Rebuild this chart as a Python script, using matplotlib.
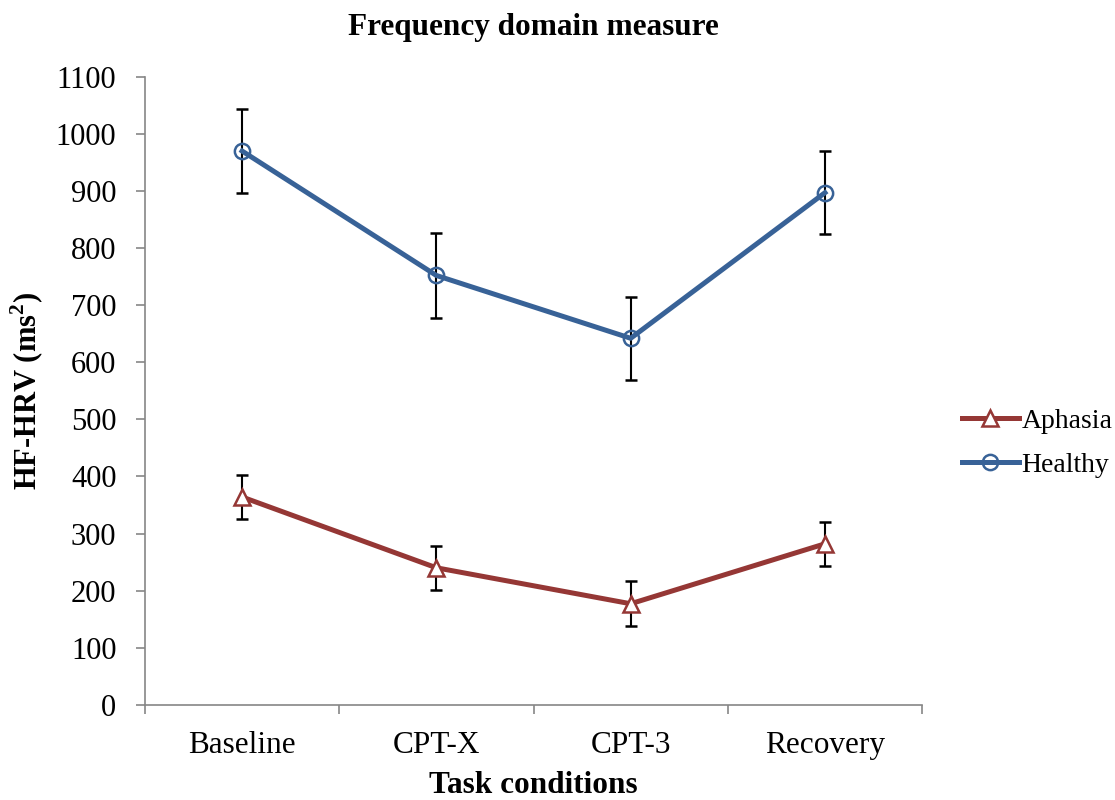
import matplotlib
matplotlib.use('Agg')
import matplotlib.pyplot as plt
import numpy as np

# 데이터
conditions = ['Baseline', 'CPT-X', 'CPT-3', 'Recovery']
aphasia = [364, 240, 177, 282]
aphasia_err = [39, 39, 39, 39]
healthy = [970, 752, 642, 897]
healthy_err = [74, 74, 73, 73]

plt.rcParams['font.family'] = ['Liberation Serif', 'DejaVu Serif']
plt.rcParams['mathtext.fontset'] = 'custom'
plt.rcParams['mathtext.rm'] = 'Liberation Serif'
plt.rcParams['mathtext.bf'] = 'Liberation Serif:bold'

fig = plt.figure(figsize=(11.15, 8), dpi=100)
ax = fig.add_axes([0.130, 0.119, 0.697, 0.785])

x = np.arange(len(conditions))

# 꺾은선 + 오차막대
ax.errorbar(x, aphasia, yerr=aphasia_err, color='#953735', lw=3.6, marker='^',
            ms=11, mfc='white', mec='#953735', mew=1.8, ecolor='black',
            elinewidth=1.5, capsize=4.3, capthick=1.5, label='Aphasia', zorder=3)
ax.errorbar(x, healthy, yerr=healthy_err, color='#386297', lw=3.6, marker='o',
            ms=11, mfc='none', mec='#386297', mew=1.8, ecolor='black',
            elinewidth=1.5, capsize=4.3, capthick=1.5, label='Healthy', zorder=3)

# 축 설정
ax.set_xlim(-0.5, 3.5)
ax.set_ylim(0, 1100)
ax.set_yticks(range(0, 1101, 100))
ax.set_xticks(x)
ax.set_xticklabels(conditions)
ax.set_xticks(np.arange(-0.5, 4, 1), minor=True)
ax.tick_params(axis='x', which='major', length=0, pad=19, labelsize=22.5)
ax.tick_params(axis='x', which='minor', length=6.5, width=1.2, color='#868686', direction='out')
ax.tick_params(axis='y', length=6.5, width=1.2, color='#868686', direction='out', labelsize=22, pad=14)

for side in ['top', 'right']:
    ax.spines[side].set_visible(False)
for side in ['left', 'bottom']:
    ax.spines[side].set_color('#868686')
    ax.spines[side].set_linewidth(1.2)

ax.set_xlabel('Task conditions', fontsize=22.5, fontweight='bold')
ax.xaxis.set_label_coords(0.5, -0.106)
ax.set_ylabel('HF-HRV (ms$^{\\mathbf{2}}$)', fontsize=22, fontweight='bold')
ax.yaxis.set_label_coords(-0.127, 0.5)
ax.set_title('Frequency domain measure', fontsize=22.5, fontweight='bold', pad=30)

# 범례
handles, labels = ax.get_legend_handles_labels()
handles = [h[0] for h in handles]
fig.legend(handles, labels, loc='center left', bbox_to_anchor=(0.840, 0.446),
           frameon=False, fontsize=20, handlelength=2.05, handletextpad=0.1,
           labelspacing=0.65)

fig.savefig('out.png', dpi=100)
